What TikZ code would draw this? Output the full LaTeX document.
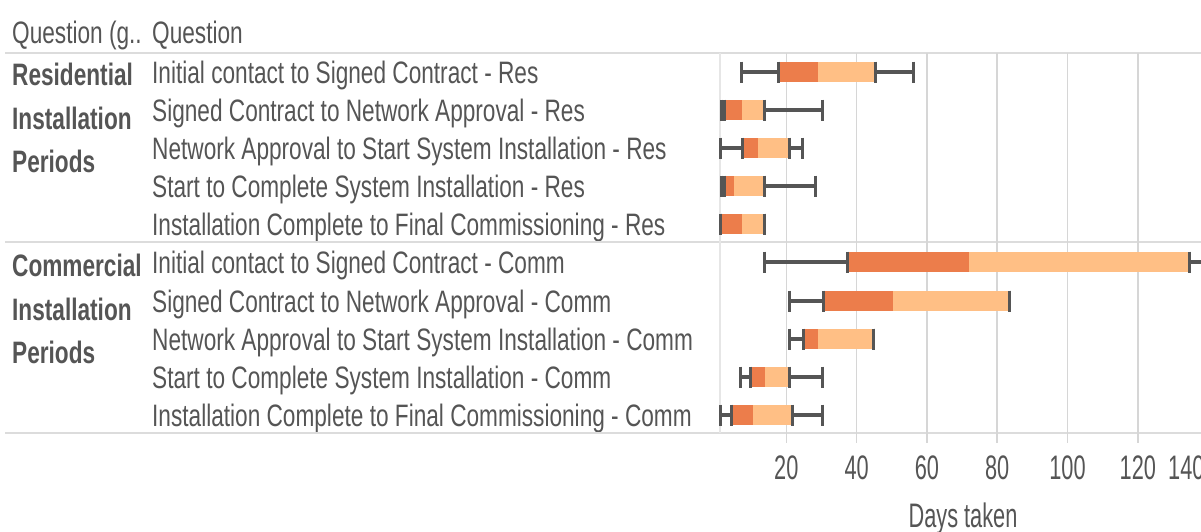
\documentclass[tikz,border=0pt]{standalone}
\usepackage{fontspec}
\setmainfont[FakeStretch=0.73]{Liberation Sans}
\newfontfamily\axisfont[FakeStretch=0.64]{Liberation Sans}
\usetikzlibrary{positioning}
\definecolor{cdark}{HTML}{EC7D4B}
\definecolor{clight}{HTML}{FFBF85}
\definecolor{cwhisk}{HTML}{555555}
\definecolor{ctext}{HTML}{555555}
\definecolor{cgrid}{HTML}{D6D6D6}
\definecolor{crule}{HTML}{DCDCDC}
\tikzset{
  every picture/.style={x=1pt, y=-1pt},
  rowlabel/.style={anchor=base west, inner sep=0pt, text=ctext, font=\fontsize{31}{36}\selectfont},
  grouplabel/.style={anchor=north west, inner sep=0pt, text=ctext, align=left, font=\fontsize{31}{43.5}\selectfont\bfseries},
  ticklabel/.style={anchor=base, inner sep=0pt, text=ctext, font=\axisfont\fontsize{34}{40}\selectfont},
  rule/.style={draw=crule, line width=2pt},
  gridline/.style={draw=cgrid, line width=1.5pt},
  axisline/.style={draw=crule!70, line width=2pt},
  whisker/.style={draw=cwhisk, line width=3.5pt},
  whiskcap/.style={draw=cwhisk, line width=3pt},
}

\begin{document}
\begin{tikzpicture}
  \useasboundingbox[fill=white] (0,0) rectangle (1201,531);
  % header and row labels
  \node[rowlabel] (hgroup) at (12,43) {Question (g..};
  \node[rowlabel] (hquestion) at (152,43) {Question};
  \node[grouplabel] (res) at (12,63) {Residential\\Installation\\Periods};
  \node[grouplabel] (comm) at (12,254) {Commercial\\Installation\\Periods};
  \foreach \ry/\txt [count=\i] in {
      72/Initial contact to Signed Contract - Res,
      110/Signed Contract to Network Approval - Res,
      148/Network Approval to Start System Installation - Res,
      186/Start to Complete System Installation - Res,
      224/Installation Complete to Final Commissioning - Res,
      262/Initial contact to Signed Contract - Comm,
      301/Signed Contract to Network Approval - Comm,
      339/Network Approval to Start System Installation - Comm,
      377/Start to Complete System Installation - Comm,
      415/Installation Complete to Final Commissioning - Comm}
    \node[rowlabel] (row\i) at (152,\ry+11) {\txt};
  \foreach \ry in {53,242,433}
    \draw[rule] (5,\ry) -- (1201,\ry);

  % box plots, x in days
  \begin{scope}[shift={(716,0)}, x=3.515pt]
    \foreach \d in {20,40,...,120} {
      \draw[gridline] (\d,53) -- (\d,443);
      \node[ticklabel] (tick\d) at (\d,479) {\d};
    }
    \draw[axisline] (1.14,53) -- (1.14,433);
    \foreach \ry/\lo/\qa/\med/\qb/\hi in {
        72/7.2/17.8/29.0/45.4/56.1,
        110/1.6/2.5/7.3/13.9/30.2,
        148/1.3/7.5/11.9/20.9/24.7,
        186/1.6/2.5/5.1/13.9/28.2,
        224/1.3/1.3/7.3/13.9/13.9,
        262/13.9/37.5/72.0/134.6/150,
        301/20.9/30.5/50.3/83.6/83.6,
        339/20.9/24.8/29.0/44.8/44.8,
        377/7.1/9.7/13.9/20.9/30.2,
        415/1.3/4.5/10.4/21.8/30.2} {
      \draw[whisker] (\lo,\ry) -- (\hi,\ry);
      \fill[cdark] (\qa,\ry-10) rectangle (\med,\ry+10);
      \fill[clight] (\med,\ry-10) rectangle (\qb,\ry+10);
      \draw[whiskcap] (\lo,\ry-10.5) -- (\lo,\ry+10.5);
      \draw[whiskcap] (\qa,\ry-10.5) -- (\qa,\ry+10.5);
      \draw[whiskcap] (\qb,\ry-10.5) -- (\qb,\ry+10.5);
      \draw[whiskcap] (\hi,\ry-10.5) -- (\hi,\ry+10.5);
    }
  \end{scope}
  \node[ticklabel, anchor=base west] (tick140) at (1168,479) {140};
  \node[ticklabel] (xtitle) at (963,527) {Days taken};
\end{tikzpicture}
\end{document}
